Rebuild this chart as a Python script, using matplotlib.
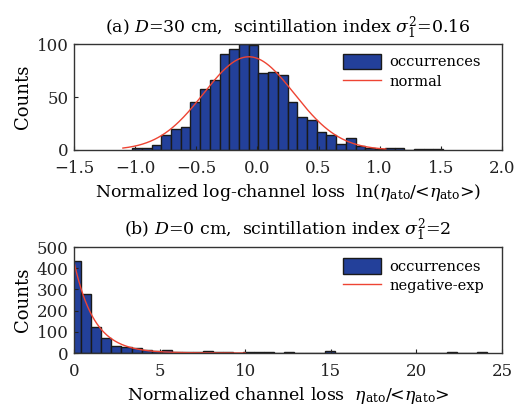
import numpy as np
import matplotlib.pyplot as plt

plt.rcParams['font.family'] = ['DejaVu Serif']
plt.rcParams['mathtext.fontset'] = 'dejavuserif'

# (a) log-channel loss histogram
top_start = -1.025
top_width = 0.0795
top_counts = [2, 2, 5, 14, 20, 22, 45, 58, 66, 91, 95, 100, 99, 73, 74, 71,
              45, 31, 28, 17, 14, 6, 11, 4, 2, 1, 2, 2, 0, 1, 1, 1]
# normal fit
norm_mu, norm_sigma, norm_peak = -0.07, 0.37, 88
norm_range = (-1.1, 1.05)

# (b) channel loss histogram
bot_start = -0.2
bot_width = 0.594
bot_counts = [434, 277, 121, 69, 33, 27, 22, 14, 10, 14, 5, 4, 3, 11, 3, 3, 2,
              4, 5, 5, 2, 6, 2, 2, 2, 8, 2, 2, 1, 2, 1, 2, 1, 1, 2, 1, 2, 6,
              1, 1, 6]
# negative exponential fit
exp_amp, exp_scale = 430, 1.18
exp_range = (0, 10)

bar_color = '#23409a'
line_color = '#ee4433'

fig = plt.figure(figsize=(5.2, 4.09), dpi=100)
ax1 = fig.add_axes([0.1423, 0.6333, 0.823, 0.259])
ax2 = fig.add_axes([0.1423, 0.1369, 0.823, 0.259])

edges1 = top_start + top_width * np.arange(len(top_counts))
b1 = ax1.bar(edges1, top_counts, width=top_width, align='edge', color=bar_color,
             edgecolor='#1a1a1a', linewidth=1.0)
xn = np.linspace(norm_range[0], norm_range[1], 300)
l1, = ax1.plot(xn, norm_peak * np.exp(-0.5 * ((xn - norm_mu) / norm_sigma) ** 2),
               color=line_color, lw=1.0)
ax1.set_xlim(-1.5, 2.0)
ax1.set_ylim(0, 100)
ax1.set_xticks(np.arange(-1.5, 2.01, 0.5))
ax1.set_xticklabels(['−1.5', '−1.0', '−0.5', '0.0', '0.5', '1.0', '1.5', '2.0'])
ax1.set_yticks([0, 50, 100])
ax1.set_ylabel('Counts', fontsize=13, labelpad=3)
ax1.set_xlabel(r'Normalized log-channel loss  ln($\eta_{\rm ato}$/<$\eta_{\rm ato}$>)',
               fontsize=12.5, labelpad=4)
ax1.set_title(r'(a) $D$=30 cm,  scintillation index $\sigma_1^2$=0.16',
              fontsize=12.5, pad=8)
ax1.legend([b1, l1], ['occurrences', 'normal'], loc='upper left',
           bbox_to_anchor=(0.628, 0.91))

edges2 = bot_start + bot_width * np.arange(len(bot_counts))
b2 = ax2.bar(edges2, bot_counts, width=bot_width, align='edge', color=bar_color,
             edgecolor='#1a1a1a', linewidth=1.0)
xe = np.linspace(exp_range[0], exp_range[1], 300)
l2, = ax2.plot(xe, exp_amp * np.exp(-xe / exp_scale), color=line_color, lw=1.0)
ax2.set_xlim(0, 25)
ax2.set_ylim(0, 500)
ax2.set_xticks([0, 5, 10, 15, 20, 25])
ax2.set_yticks([0, 100, 200, 300, 400, 500])
ax2.set_ylabel('Counts', fontsize=13, labelpad=3)
ax2.set_xlabel(r'Normalized channel loss  $\eta_{\rm ato}$/<$\eta_{\rm ato}$>',
               fontsize=12.5, labelpad=4)
ax2.set_title(r'(b) $D$=0 cm,  scintillation index $\sigma_1^2$=2',
              fontsize=12.5, pad=9)
ax2.legend([b2, l2], ['occurrences', 'negative-exp'], loc='upper left',
           bbox_to_anchor=(0.628, 0.90))

for ax in (ax1, ax2):
    ax.tick_params(direction='in', length=3, width=0.8, labelsize=12,
                   colors='#222222')
    ax.tick_params(axis='x', pad=7)
    ax.tick_params(axis='y', pad=4)
    for s in ax.spines.values():
        s.set_color('#333333')
        s.set_linewidth(1.0)
    leg = ax.get_legend()
    anchor = leg.get_bbox_to_anchor().transformed(ax.transAxes.inverted())
    ax.legend(leg.legend_handles, [t.get_text() for t in leg.get_texts()],
              loc='upper left', bbox_to_anchor=(anchor.x0, anchor.y0),
              frameon=False, fontsize=10.5, borderpad=0, borderaxespad=0,
              handlelength=2.6, handleheight=1.3, handletextpad=0.6,
              labelspacing=0.25)

fig.savefig('out.png', dpi=100)
